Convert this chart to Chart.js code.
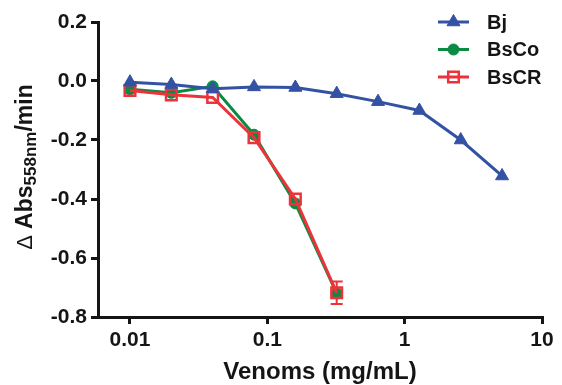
<!DOCTYPE html>
<html>
<head>
<meta charset="utf-8">
<script src="https://cdn.jsdelivr.net/npm/chart.js@4.4.1/dist/chart.umd.min.js"></script>
<style>
html, body { margin: 0; padding: 0; background: #fff; }
#wrap { width: 562px; height: 385px; }
</style>
</head>
<body>
<div id="wrap"><canvas id="chart" width="562" height="385"></canvas></div>
<script>
// valeurs
const doses    = [0.01, 0.02, 0.04, 0.08, 0.16, 0.32, 0.64, 1.28, 2.56, 5.12];
const bj       = [-0.004, -0.012, -0.026, -0.020, -0.022, -0.043, -0.070, -0.100, -0.200, -0.322];
const bsco     = [-0.028, -0.040, -0.018, -0.182, -0.415, -0.720];
const bscr     = [-0.032, -0.047, -0.056, -0.192, -0.400, -0.718];
const bscrErr  = [0, 0, 0, 0, 0, 0.038];
const xTicks   = [0.01, 0.1, 1, 10];
const labels   = ['Bj', 'BsCo', 'BsCR'];

const FONT = '"Liberation Sans", Arial, Helvetica, sans-serif';
const INK  = '#151515';
const BLUE = '#3452a4', GREEN = '#0b8a43', RED = '#ec3339';

const pts = arr => arr.map((v, i) => ({ x: doses[i], y: v }));

// titre axe y avec indice (Δ Abs558nm/min)
const yTitle = {
    id: 'yTitle',
    afterDraw(chart) {
        const ctx = chart.ctx;
        const parts = [
            { t: 'Δ ', font: '22px ', dy: 0 },
            { t: 'Abs', font: 'bold 23px ', dy: 0 },
            { t: '558nm', font: 'bold 17px ', dy: 4 },
            { t: '/min', font: 'bold 23px ', dy: 0 }
        ];
        ctx.save();
        let w = 0;
        parts.forEach(p => { ctx.font = p.font + FONT; p.w = ctx.measureText(p.t).width; w += p.w; });
        const cy = 167;
        ctx.translate(32, cy);
        ctx.rotate(-Math.PI / 2);
        ctx.fillStyle = INK;
        ctx.textBaseline = 'alphabetic';
        let x = -w / 2;
        parts.forEach(p => {
            ctx.font = p.font + FONT;
            ctx.fillText(p.t, x, p.dy);
            x += p.w;
        });
        ctx.restore();
    }
};

// barres d'erreur (seulement BsCR, dernier point)
const errBars = {
    id: 'errBars',
    beforeDatasetsDraw(chart) {
        const ctx = chart.ctx, xs = chart.scales.x, ys = chart.scales.y;
        ctx.save();
        ctx.strokeStyle = RED;
        ctx.lineWidth = 2;
        bscrErr.forEach((e, i) => {
            if (!e) return;
            const px = xs.getPixelForValue(doses[i]);
            const top = ys.getPixelForValue(bscr[i] + e);
            const bot = ys.getPixelForValue(bscr[i] - e);
            ctx.beginPath();
            ctx.moveTo(px, top); ctx.lineTo(px, bot);
            ctx.moveTo(px - 6, top); ctx.lineTo(px + 6, top);
            ctx.moveTo(px - 6, bot); ctx.lineTo(px + 6, bot);
            ctx.stroke();
        });
        ctx.restore();
    }
};

// légende style Prism : trait + marqueur
const legendBox = {
    id: 'legendBox',
    afterDraw(chart) {
        const ctx = chart.ctx;
        ctx.save();
        chart.data.datasets.forEach((ds, i) => {
            const y = 22 + i * 27.5;
            ctx.strokeStyle = ds.borderColor;
            ctx.lineWidth = 3;
            ctx.beginPath(); ctx.moveTo(438, y); ctx.lineTo(469, y); ctx.stroke();
            ctx.fillStyle = ds.pointBackgroundColor;
            ctx.strokeStyle = ds.borderColor;
            ctx.lineWidth = ds.pointBorderWidth;
            Chart.helpers.drawPoint(ctx, { pointStyle: ds.pointStyle, radius: ds.pointRadius, borderWidth: ds.pointBorderWidth, rotation: 0 }, 453.5, y);
            ctx.fillStyle = INK;
            ctx.font = 'bold 20px ' + FONT;
            ctx.textBaseline = 'middle';
            ctx.fillText(ds.label, 487, y + 1);
        });
        ctx.restore();
    }
};

const axisGrid = {
    display: true, drawOnChartArea: false, drawTicks: true,
    tickLength: 7, lineWidth: 3, color: INK
};

new Chart(document.getElementById('chart').getContext('2d'), {
    type: 'line',
    data: {
        datasets: [
            {
                label: labels[0], data: pts(bj), order: 0,
                borderColor: BLUE, backgroundColor: BLUE, borderWidth: 3,
                pointStyle: 'triangle', pointRadius: 7.5, pointBorderWidth: 1,
                pointBackgroundColor: BLUE, pointBorderColor: BLUE
            },
            {
                label: labels[1], data: pts(bsco), order: 2,
                borderColor: GREEN, backgroundColor: GREEN, borderWidth: 3,
                pointStyle: 'circle', pointRadius: 5.5, pointBorderWidth: 1,
                pointBackgroundColor: GREEN, pointBorderColor: GREEN
            },
            {
                label: labels[2], data: pts(bscr), order: 1,
                borderColor: RED, backgroundColor: RED, borderWidth: 3,
                pointStyle: 'rect', pointRadius: 7.5, pointBorderWidth: 2.5,
                pointBackgroundColor: 'rgba(255,255,255,0)', pointBorderColor: RED
            }
        ]
    },
    options: {
        responsive: false,
        animation: false,
        layout: { padding: { top: 22, right: 20, left: 0, bottom: 0 } },
        plugins: { legend: { display: false }, tooltip: { enabled: false } },
        elements: { line: { tension: 0 } },
        scales: {
            x: {
                type: 'logarithmic', min: 0.00585, max: 10,
                afterBuildTicks: s => { s.ticks = xTicks.map(v => ({ value: v })); },
                afterFit: s => { s.height = 68; },
                grid: axisGrid,
                border: { display: true, width: 3, color: INK },
                ticks: {
                    color: INK, padding: 4, maxRotation: 0, autoSkip: false,
                    font: { family: FONT, size: 21, weight: 'bold' },
                    callback: v => String(v)
                },
                title: {
                    display: true, text: 'Venoms (mg/mL)', color: INK,
                    font: { family: FONT, size: 24, weight: 'bold' },
                    padding: { top: 0, bottom: -2 }
                }
            },
            y: {
                min: -0.8, max: 0.2,
                afterFit: s => { s.width = 98; },
                grid: axisGrid,
                border: { display: true, width: 3, color: INK },
                ticks: {
                    stepSize: 0.2, color: INK, padding: 4,
                    font: { family: FONT, size: 21, weight: 'bold' },
                    callback: v => Math.abs(v) < 1e-9 ? '0.0' : v.toFixed(1)
                }
            }
        }
    },
    plugins: [errBars, yTitle, legendBox]
});
</script>
</body>
</html>
